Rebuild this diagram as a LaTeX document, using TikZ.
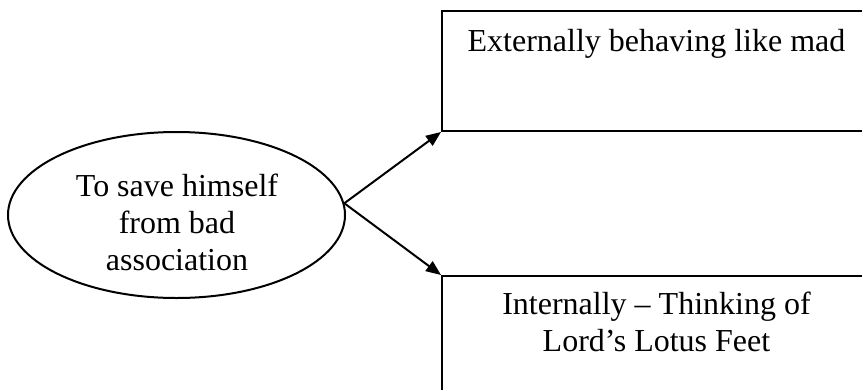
\documentclass[tikz,border=0pt]{standalone}
\usepackage{fontspec}
\setmainfont{Liberation Serif}
\usetikzlibrary{arrows.meta,shapes.geometric}
\begin{document}
\begin{tikzpicture}[x=1pt,y=-1pt,
  every node/.style={font=\fontsize{32}{37}\selectfont},
  arr/.style={line width=2pt,-{Triangle[length=15pt,width=12pt]}},
  boxstyle/.style={draw,line width=2pt,rectangle,anchor=north west,inner sep=0pt,minimum width=431pt}]
\useasboundingbox (0,0) rectangle (862,389);
\clip (0,0) rectangle (862,389);
\node[draw,ellipse,line width=2pt,minimum width=337pt,minimum height=166pt,inner sep=0pt] (e) at (176.5,215) {};
\node[align=center] (et) at (177,222) {To save himself\\from bad\\association};
\node[boxstyle,minimum height=120pt] (b1) at (441,10) {};
\node[boxstyle,minimum height=150pt] (b2) at (441,275) {};
\node[anchor=base] (t1) at (656.5,51) {Externally behaving like mad};
\node[align=center] (t2) at (656.5,322) {Internally – Thinking of\\Lord’s Lotus Feet};
\draw[arr] (e.4) -- (b1.south west);
\draw[arr] (e.4) -- (b2.north west);
\end{tikzpicture}
\end{document}
